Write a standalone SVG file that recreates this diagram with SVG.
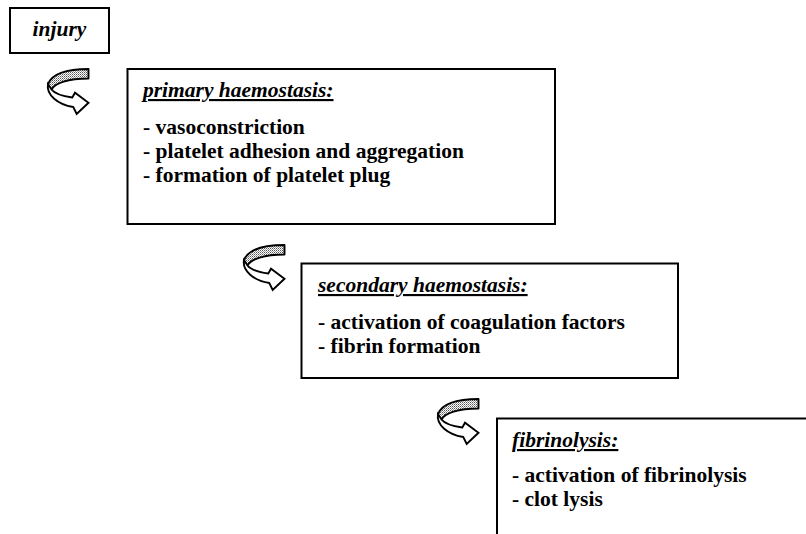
<svg xmlns="http://www.w3.org/2000/svg" width="806" height="534" viewBox="0 0 806 534">
<defs>
<pattern id="dots" width="2" height="2" patternUnits="userSpaceOnUse">
<rect width="2" height="2" fill="#ffffff"/>
<rect width="1" height="1" fill="#555555"/>
<rect x="1" y="1" width="1" height="1" fill="#999999"/>
</pattern>
<g id="curl">
<path class="back" d="M88.5,69 C71,69 53,72 48,84 C47.5,86 49,88 51.5,89.5 C55,83 68,78.5 88.5,78.5 Z"/>
<path class="front" d="M48,84 C46,95 58,104.5 73.3,107 L76.7,114 L88.5,102.8 L75,92.7 L72.3,97.5 C62,96 54.5,93.5 51.5,89.5 Z"/>
</g>
</defs>
<style>
.box{fill:#ffffff;stroke:#000000;stroke-width:2}
.back{fill:url(#dots);stroke:#000000;stroke-width:1.9;stroke-linejoin:round}
.front{fill:#ffffff;stroke:#000000;stroke-width:1.9;stroke-linejoin:miter}
text{font-family:"Liberation Serif","Times New Roman",serif;font-size:21.5px;font-weight:bold;fill:#000000}
.title{font-style:italic;text-decoration:underline}
.inj{font-style:italic}
</style>
<rect width="806" height="534" fill="#ffffff"/>
<g id="connectors">
<use href="#curl"/>
<use href="#curl" transform="translate(196,176)"/>
<use href="#curl" transform="translate(390,330)"/>
</g>
<g id="injury">
<rect class="box" x="10" y="8" width="99" height="45"/>
<text class="inj" x="59.5" y="36" text-anchor="middle">injury</text>
</g>
<g id="primary">
<rect class="box" x="127.5" y="69" width="427.5" height="155"/>
<text class="title" x="143" y="97">primary haemostasis:</text>
<text x="143" y="134">- vasoconstriction</text>
<text x="143" y="158">- platelet adhesion and aggregation</text>
<text x="143" y="182">- formation of platelet plug</text>
</g>
<g id="secondary">
<rect class="box" x="301.5" y="263.5" width="376.5" height="114.5"/>
<text class="title" x="318" y="292">secondary haemostasis:</text>
<text x="318" y="329">- activation of coagulation factors</text>
<text x="318" y="353">- fibrin formation</text>
</g>
<g id="fibrinolysis">
<rect class="box" x="497" y="418.5" width="320" height="130"/>
<text class="title" x="512" y="447">fibrinolysis:</text>
<text x="512" y="482">- activation of fibrinolysis</text>
<text x="512" y="506">- clot lysis</text>
</g>
</svg>
